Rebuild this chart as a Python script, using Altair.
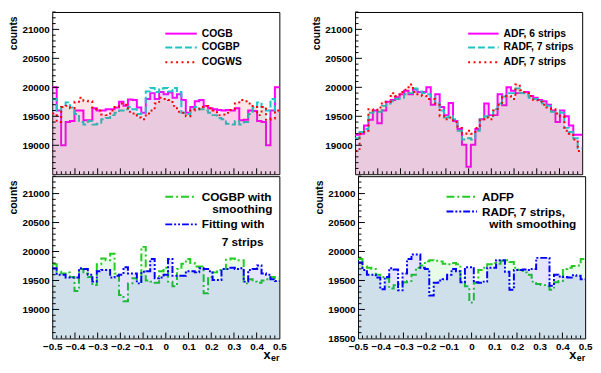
import altair as alt
import pandas as pd

NB = 51
X_EDGES = [round(-0.5 + i / NB, 6) for i in range(NB + 1)]

# ---- top-left panel ----
COGB = [20000, 19600, 19000, 19400, 19420, 19600, 19600, 19430, 19430, 19640,
        19600, 19600, 19620, 19620, 19650, 19750, 19680, 19790, 19780, 19650,
        19560, 19800, 19900, 19800, 19920, 19880, 19910, 19820, 19880, 19780,
        19560, 19660, 19760, 19780, 19680, 19640, 19620, 19610, 19600, 19610,
        19600, 19640, 19430, 19440, 19600, 19590, 19420, 19400, 19000, 19600, 20000]
COGBP = [19800, 19600, 19660, 19740, 19650, 19540, 19400, 19360, 19420, 19360,
         19370, 19450, 19470, 19520, 19560, 19600, 19620, 19660, 19620, 19540,
         19560, 19930, 19990, 19920, 19980, 19990, 19930, 19990, 19920, 19560,
         19540, 19620, 19660, 19620, 19600, 19560, 19520, 19470, 19450, 19370,
         19360, 19420, 19360, 19400, 19540, 19650, 19740, 19660, 19600, 19800, 19580]
COGWS = [19550, 19400, 19660, 19680, 19640, 19750, 19820, 19770, 19760, 19620,
         19600, 19530, 19520, 19600, 19660, 19720, 19700, 19580, 19550, 19480,
         19450, 19550, 19600, 19720, 19820, 19800, 19780, 19680, 19580, 19560,
         19500, 19600, 19620, 19660, 19680, 19640, 19600, 19520, 19530, 19560,
         19610, 19740, 19780, 19760, 19720, 19660, 19520, 19660, 19440, 19460, 19600]
# ---- top-right panel ----
ADF6 = [19180, 19200, 19340, 19440, 19600, 19380, 19600, 19750, 19780, 19830,
        19880, 19940, 19880, 19960, 19920, 19920, 20000, 19700, 19880, 19660,
        19520, 19730, 19420, 19280, 19010, 18630, 19010, 19280, 19450, 19720,
        19520, 19520, 19880, 19690, 20000, 19940, 19900, 19900, 19920, 19850,
        19820, 19780, 19760, 19700, 19600, 19400, 19600, 19500, 19340, 19180, 19180]
RADF7 = [19120, 19230, 19280, 19560, 19580, 19580, 19680, 19720, 19760, 19800,
         19820, 19880, 19900, 19980, 19930, 19900, 19880, 19840, 19720, 19600,
         19480, 19500, 19450, 19250, 19100, 19120, 19100, 19250, 19450, 19500,
         19500, 19620, 19720, 19840, 19900, 19900, 19980, 19900, 19880, 19820,
         19800, 19760, 19720, 19680, 19580, 19580, 19560, 19300, 19230, 19120, 18950]
ADF7 = [18900, 19200, 19250, 19620, 19600, 19650, 19750, 19750, 19900, 19850,
        19920, 19960, 20050, 19920, 19880, 19850, 19800, 19800, 19700, 19500,
        19450, 19480, 19400, 19300, 19200, 19250, 19200, 19300, 19450, 19480,
        19450, 19600, 19700, 19850, 19850, 19800, 20050, 19950, 19900, 19850,
        19780, 19750, 19700, 19650, 19620, 19550, 19500, 19250, 19200, 19100, 18900]
# ---- bottom-left panel ----
COGBP_SM = [19780, 19650, 19620, 19640, 19560, 19320, 19700, 19620, 19560, 19420,
            19780, 19880, 19850, 19960, 19620, 19250, 19140, 19450, 19540, 19500,
            20080, 19500, 19480, 19460, 19660, 19720, 19480, 19400, 19700, 19790,
            19870, 19800, 19740, 19740, 19280, 19560, 19640, 19680, 19700, 19860,
            19880, 19850, 19850, 19450, 19520, 19480, 19460, 19500, 19520, 19560, 19540]
FIT7 = [19710, 19600, 19600, 19550, 19550, 19550, 19710, 19700, 19600, 19480,
        19660, 19680, 19680, 19550, 19580, 19600, 19730, 19620, 19620, 19450,
        19650, 19660, 19870, 19540, 19550, 19600, 19870, 19580, 19580, 19580,
        19660, 19660, 19640, 19710, 19700, 19660, 19510, 19510, 19700, 19700,
        19720, 19700, 19710, 19480, 19680, 19700, 19760, 19620, 19600, 19520, 19490]
# ---- bottom-right panel ----
ADFP = [19870, 19740, 19720, 19700, 19600, 19560, 19540, 19360, 19420, 19440,
        19470, 19490, 19600, 19720, 19760, 19830, 19850, 19840, 19830, 19790,
        19780, 19800, 19780, 19550, 19400, 19120, 19460, 19680, 19720, 19780,
        19800, 19790, 19840, 19850, 19820, 19720, 19680, 19640, 19600, 19480,
        19440, 19420, 19400, 19340, 19470, 19490, 19700, 19720, 19750, 19760, 19870]
RADF7_SM = [19810, 19680, 19600, 19600, 19550, 19350, 19560, 19710, 19690, 19330,
            19620, 19870, 19950, 19950, 19720, 19700, 19240, 19460, 19500, 19520,
            19600, 19700, 19660, 19470, 19730, 19730, 19470, 19460, 19480, 19720,
            19720, 19850, 19850, 19650, 19340, 19680, 19680, 19690, 19680, 19700,
            19890, 19890, 19890, 19410, 19600, 19570, 19560, 19550, 19590, 19580, 19520]

for s in [COGB, COGBP, COGWS, ADF6, RADF7, ADF7, COGBP_SM, FIT7, ADFP, RADF7_SM]:
    assert len(s) == NB, len(s)

LEG_TL = ["COGB", "COGBP", "COGWS"]
LEG_TR = ["ADF, 6 strips", "RADF, 7 strips", "ADF, 7 strips"]
LEG_BL = [["COGBP with", "smoothing"], ["Fitting with", "7 strips"]]
LEG_BR = [["ADFP"], ["RADF, 7 strips,", "with smoothing"]]

Y_LABELS = [19000, 19500, 20000, 20500, 21000]
Y_MINOR = [v for v in range(18600, 21301, 100) if v % 500 != 0]
X_LABELS = [round(-0.5 + 0.1 * i, 1) for i in range(11)]
X_MAJOR = X_LABELS[1:-1]
X_MINOR = [round(-0.5 + 0.02 * i, 2) for i in range(1, 50) if i % 5 != 0]

W, H = 231, 165
YMIN, YMAX = 18500, 21300
FONT = "Liberation Sans"

MAG = "#ff00ff"
CYA = "#20c4c4"
RED = "#ff0000"
GRN = "#22cc22"
BLU = "#0000ff"

XS = alt.Scale(domain=[-0.5, 0.5], nice=False, zero=False)
YS = alt.Scale(domain=[YMIN, YMAX], nice=False, zero=False)


def make_panel(series, legend, bottom, with_min_label):
    if bottom:
        xaxis = alt.Axis(values=X_LABELS, ticks=False, domain=False, grid=False,
                         labelFlush=False, labelOverlap=False, labelPadding=3,
                         labelFontSize=10, labelFontWeight="bold", labelColor="black",
                         format=".1f", labelExpr="datum.value == 0 ? '0' : datum.label",
                         title=None)
    else:
        xaxis = None
    yvals = ([YMIN] if with_min_label else []) + Y_LABELS
    yaxis = alt.Axis(values=yvals, ticks=False, domain=False, grid=False,
                     labelPadding=3, labelFontSize=10, labelFontWeight="bold",
                     labelColor="black", labelOverlap=False, format="d",
                     title="counts", titleFontSize=10.5, titleFontWeight="bold",
                     titleColor="black", titleAngle=270, titleAlign="right",
                     titleBaseline="middle", titleX=-39, titleY=4)

    def xe(f):
        return alt.X(f, type="quantitative", scale=XS, axis=xaxis)

    def ye(f):
        return alt.Y(f, type="quantitative", scale=YS, axis=yaxis)

    layers = []
    for vals, color, dash, op in series:
        df = pd.DataFrame({"x": X_EDGES, "y": list(vals) + [vals[-1]]})
        base = alt.Chart(df)
        layers.append(base.mark_area(interpolate="step-after", color=color, opacity=op)
                      .encode(x=xe("x"), y=ye("y"), y2=alt.datum(YMIN)))
        lk = dict(interpolate="step-after", color=color, strokeWidth=2)
        if dash:
            lk["strokeDash"] = dash
        layers.append(base.mark_line(**lk).encode(x=xe("x"), y=ye("y")))

    # inward ticks
    layers.append(alt.Chart(pd.DataFrame({"v": Y_LABELS})).mark_rule(color="black", strokeWidth=1)
                  .encode(y=ye("v"), x=alt.value(0), x2=alt.value(7)))
    layers.append(alt.Chart(pd.DataFrame({"v": Y_MINOR})).mark_rule(color="black", strokeWidth=1)
                  .encode(y=ye("v"), x=alt.value(0), x2=alt.value(3.5)))
    layers.append(alt.Chart(pd.DataFrame({"v": X_MAJOR})).mark_rule(color="black", strokeWidth=1)
                  .encode(x=xe("v"), y=alt.value(H), y2=alt.value(H - 6)))
    layers.append(alt.Chart(pd.DataFrame({"v": X_MINOR})).mark_rule(color="black", strokeWidth=1)
                  .encode(x=xe("v"), y=alt.value(H), y2=alt.value(H - 3)))

    # legend
    for item in legend:
        (x0, x1, yy, color, dash, texts) = item
        lk = dict(color=color, strokeWidth=2)
        if dash:
            lk["strokeDash"] = dash
        layers.append(alt.Chart(pd.DataFrame({"a": [0]})).mark_rule(**lk)
                      .encode(x=alt.value(x0), x2=alt.value(x1), y=alt.value(yy)))
        for (tx, ty, align, fs, t) in texts:
            layers.append(alt.Chart(pd.DataFrame({"t": [t]}))
                          .mark_text(align=align, baseline="middle", fontSize=fs,
                                     fontWeight="bold", font=FONT, color="black")
                          .encode(text="t:N", x=alt.value(tx), y=alt.value(ty)))

    if bottom:
        layers.append(alt.Chart(pd.DataFrame({"t": ["x"]}))
                      .mark_text(align="right", baseline="alphabetic", fontSize=13,
                                 fontWeight="bold", font=FONT, color="black")
                      .encode(text="t:N", x=alt.value(W - 9), y=alt.value(H + 21)))
        layers.append(alt.Chart(pd.DataFrame({"t": ["er"]}))
                      .mark_text(align="right", baseline="alphabetic", fontSize=9,
                                 fontWeight="bold", font=FONT, color="black")
                      .encode(text="t:N", x=alt.value(W), y=alt.value(H + 23)))

    return alt.layer(*layers).properties(width=W, height=H)


OP = 0.1
DASH_C = [7, 3]
DASH_R = [2, 3.5]
DASH_G = [8, 3, 2, 3]
DASH_B = [7, 2, 2, 2, 2, 2]

TL = make_panel(
    [(COGB, MAG, None, OP), (COGBP, CYA, DASH_C, OP), (COGWS, RED, DASH_R, OP)],
    [(115, 147, 22, MAG, None, [(152, 22, "left", 10.5, LEG_TL[0])]),
     (115, 147, 36, CYA, DASH_C, [(152, 36, "left", 10.5, LEG_TL[1])]),
     (115, 147, 51, RED, DASH_R, [(152, 51, "left", 10.5, LEG_TL[2])])],
    False, False)
TR = make_panel(
    [(ADF6, MAG, None, OP), (RADF7, CYA, DASH_C, OP), (ADF7, RED, DASH_R, OP)],
    [(115, 146, 22, MAG, None, [(151, 22, "left", 10.5, LEG_TR[0])]),
     (115, 146, 36, CYA, DASH_C, [(151, 36, "left", 10.5, LEG_TR[1])]),
     (115, 146, 51, RED, DASH_R, [(151, 51, "left", 10.5, LEG_TR[2])])],
    False, False)
BL = make_panel(
    [(COGBP_SM, GRN, DASH_G, OP), (FIT7, BLU, DASH_B, OP)],
    [(115, 147, 21, GRN, DASH_G, [(152, 21, "left", 12, LEG_BL[0][0]),
                                  (224, 33, "right", 12, LEG_BL[0][1])]),
     (115, 147, 49, BLU, DASH_B, [(152, 49, "left", 12, LEG_BL[1][0]),
                                  (215, 67, "right", 12, LEG_BL[1][1])])],
    True, False)
BR = make_panel(
    [(ADFP, GRN, DASH_G, OP), (RADF7_SM, BLU, DASH_B, OP)],
    [(90, 121, 21, GRN, DASH_G, [(126, 21, "left", 12, LEG_BR[0][0])]),
     (90, 121, 36, BLU, DASH_B, [(126, 36, "left", 12, LEG_BR[1][0]),
                                 (222, 49, "right", 12, LEG_BR[1][1])])],
    True, True)

top = alt.hconcat(TL, TR, spacing=27)
bot = alt.hconcat(BL, BR, spacing=27)
chart = alt.vconcat(top, bot, spacing=0).properties(padding=0)
chart = chart.configure(font=FONT).configure_view(stroke="black", strokeWidth=1)

chart.save("out.html", embed_options={"renderer": "svg", "actions": False})
